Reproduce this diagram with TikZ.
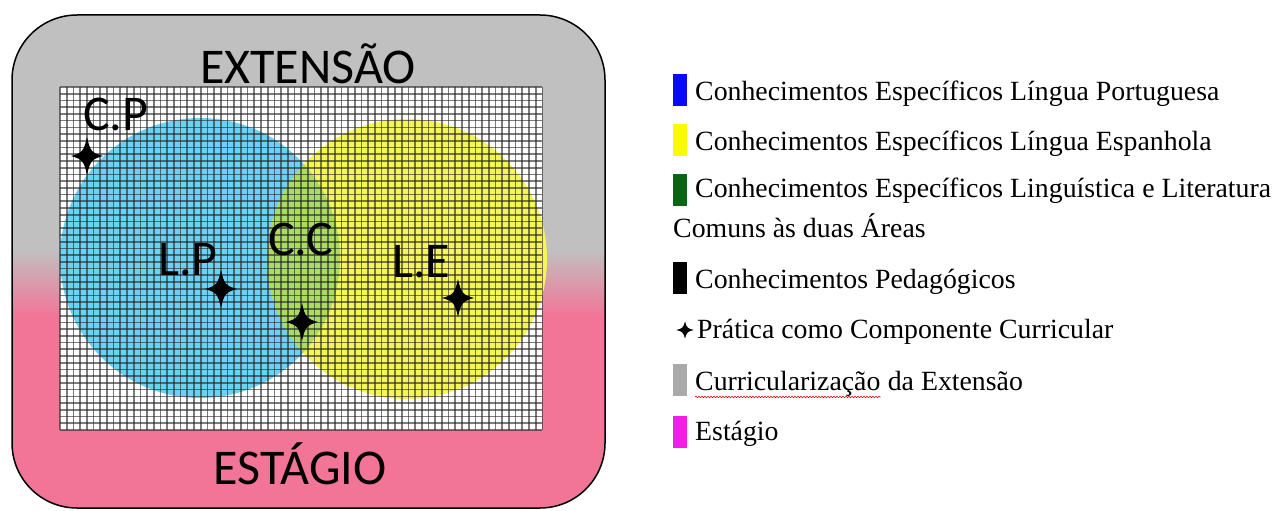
\documentclass[tikz,border=0pt]{standalone}
\usepackage{fontspec}
\setmainfont{Liberation Serif}
\newfontfamily\calibri{Carlito}
\usetikzlibrary{positioning,decorations.pathmorphing}
\definecolor{extgray}{RGB}{192,192,192}
\definecolor{estpink}{RGB}{242,117,152}
\definecolor{lpblue}{RGB}{105,210,245}
\definecolor{leyellow}{RGB}{245,245,85}
\definecolor{ccgreen}{RGB}{170,220,95}
\definecolor{swblue}{RGB}{10,10,250}
\definecolor{swyellow}{RGB}{250,250,0}
\definecolor{swgreen}{RGB}{10,100,20}
\definecolor{swgray}{RGB}{170,170,170}
\definecolor{swmagenta}{RGB}{240,30,230}
\tikzset{pcc/.pic={\fill[black] (0,-19) .. controls (3,-5) and (5,-3) .. (16,0) .. controls (5,3) and (3,5) .. (0,19) .. controls (-3,5) and (-5,3) .. (-16,0) .. controls (-5,-3) and (-3,-5) .. cycle;}}
\begin{document}
\begin{tikzpicture}[x=1pt,y=-1pt,
    bigtext/.style={font=\calibri\fontsize{50}{50}\selectfont,inner sep=0pt},
    legtext/.style={font=\fontsize{27.8}{30}\selectfont,inner sep=0pt,anchor=base west},
    swatch/.style={minimum width=14pt,minimum height=32pt,inner sep=0pt},
    gridline/.style={black!85,line width=1.7pt,opacity=0.6}]
  \useasboundingbox (0,0) rectangle (1274,511);
  % background: extensao / estagio
  \begin{scope}
    \clip[rounded corners=65pt] (12,15) rectangle (605,508);
    \fill[estpink] (12,15) rectangle (605,508);
    \fill[extgray] (12,15) rectangle (605,251);
    \shade[top color=extgray,bottom color=estpink] (12,250) rectangle (605,316);
  \end{scope}
  \draw[line width=1.5pt,rounded corners=65pt] (12,15) rectangle (605,508);
  % grid and circles
  \fill[white] (60,87) rectangle (542,430);
  \fill[lpblue] (200,258) circle (140);
  \fill[leyellow] (407,259) circle (140);
  \begin{scope}
    \clip (200,258) circle (140);
    \fill[ccgreen] (407,259) circle (140);
  \end{scope}
  \foreach \i in {0,...,72}
    \draw[gridline] (60+\i*6.7,87) -- (60+\i*6.7,430);
  \foreach \i in {0,...,51}
    \draw[gridline] (60,87+\i*6.725) -- (542,87+\i*6.725);
  % labels
  \node[bigtext,anchor=base] (ext) at (308,83) {EXTENSÃO};
  \node[bigtext,anchor=base] (est) at (300,484) {ESTÁGIO};
  \node[bigtext,anchor=base west] (cp) at (83,130) {C.P};
  \node[bigtext,anchor=base west] (lp) at (158,275) {L.P};
  \node[bigtext,anchor=base west] (cc) at (268,255) {C.C};
  \node[bigtext,anchor=base west] (le) at (392,277) {L.E};
  \pic (scp) at (87,156) {pcc};
  \pic (slp) at (221,289) {pcc};
  \pic (scc) at (302,322) {pcc};
  \pic (sle) at (458,298) {pcc};
  % legend
  \node[swatch,fill=swblue] (sw1) at (680,90) {};
  \node[legtext] (l1) at (695,100) {Conhecimentos Específicos Língua Portuguesa};
  \node[swatch,fill=swyellow] (sw2) at (680,140) {};
  \node[legtext] (l2) at (695,150) {Conhecimentos Específicos Língua Espanhola};
  \node[swatch,fill=swgreen] (sw3) at (680,190) {};
  \node[legtext] (l3) at (695,197) {Conhecimentos Específicos Linguística e Literatura};
  \node[legtext] (l3b) at (673,237) {Comuns às duas Áreas};
  \node[swatch,fill=black] (sw4) at (680,278) {};
  \node[legtext] (l4) at (695,288) {Conhecimentos Pedagógicos};
  \pic[xscale=0.55,yscale=0.45] (sw5) at (685,330) {pcc};
  \node[legtext] (l5) at (697,338) {Prática como Componente Curricular};
  \node[swatch,fill=swgray] (sw6) at (680,380) {};
  \node[legtext] (l6) at (695,390) {Curricularização};
  \node[legtext] (l6b) at ([xshift=7pt]l6.base east) {da Extensão};
  \draw[red!80!black,line width=0.6pt,decorate,decoration={snake,amplitude=0.7pt,segment length=3pt}]
    ([yshift=-7pt]l6.base west) -- ([yshift=-7pt]l6.base east);
  \node[swatch,fill=swmagenta] (sw7) at (680,432) {};
  \node[legtext] (l7) at (695,440) {Estágio};
\end{tikzpicture}
\end{document}
